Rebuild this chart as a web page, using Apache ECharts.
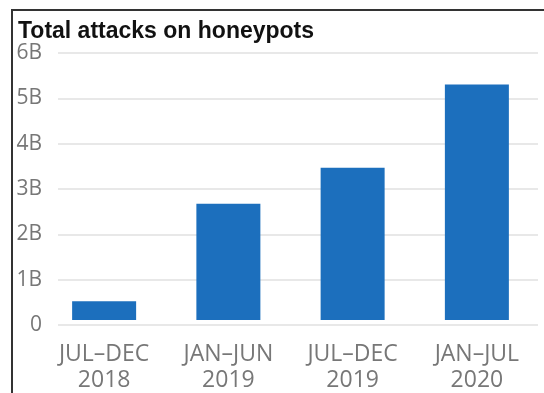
<!DOCTYPE html>
<html>
<head>
<meta charset="utf-8">
<script src="https://cdn.jsdelivr.net/npm/echarts@6/dist/echarts.min.js"></script>
<style>html,body{margin:0;padding:0;background:#fff}#c{width:544px;height:393px}</style>
</head>
<body>
<div id="c"></div>
<script>
const titleText = 'Total attacks on honeypots';
const categories = ['JUL–DEC\n2018', 'JAN–JUN\n2019', 'JUL–DEC\n2019', 'JAN–JUL\n2020'];
const attacksBillions = [0.42, 2.61, 3.42, 5.29];
const yMax = 6;
const yStep = 1;

const chart = echarts.init(document.getElementById('c'), null, {renderer: 'canvas'});
const option = {
  backgroundColor: '#fff',
  animation: false,
  title: {
    text: titleText,
    left: 13,
    top: 15,
    textStyle: {fontFamily: 'Liberation Sans, Arial', fontWeight: 'bold', fontSize: 23, color: '#111'}
  },
  grid: [
    {left: 58, right: 6, top: 53, bottom: 68},
    {left: 42, right: 5, top: 53, bottom: 68}
  ],
  xAxis: [
    {gridIndex: 0, type: 'category', data: categories, show: false},
    {
      gridIndex: 1, type: 'category', data: categories,
      axisLine: {show: false}, axisTick: {show: false},
      axisLabel: {fontFamily: 'Open Sans', fontSize: 23, color: '#777', lineHeight: 26, margin: 21}
    }
  ],
  yAxis: [
    {
      gridIndex: 0, type: 'value', min: 0, max: yMax, interval: yStep,
      axisLine: {show: false}, axisTick: {show: false},
      splitLine: {lineStyle: {color: '#e0e0e0', width: 1.5}},
      axisLabel: {fontFamily: 'Open Sans', fontSize: 21, color: '#777', margin: 16,
        formatter: v => v === 0 ? '0' : v + 'B'}
    },
    {gridIndex: 1, type: 'value', min: 0, max: yMax, interval: yStep, show: false, splitLine: {show: false}}
  ],
  series: [{
    type: 'bar', xAxisIndex: 1, yAxisIndex: 1,
    data: attacksBillions, barWidth: 64,
    itemStyle: {color: '#1c6fbd'}
  }],
  graphic: [
    {type: 'line', shape: {x1: 12, y1: 10, x2: 12, y2: 393}, style: {stroke: '#333', lineWidth: 2}},
    {type: 'line', shape: {x1: 11, y1: 10, x2: 544, y2: 10}, style: {stroke: '#333', lineWidth: 2}}
  ]
};
chart.setOption(option);
</script>
</body>
</html>
